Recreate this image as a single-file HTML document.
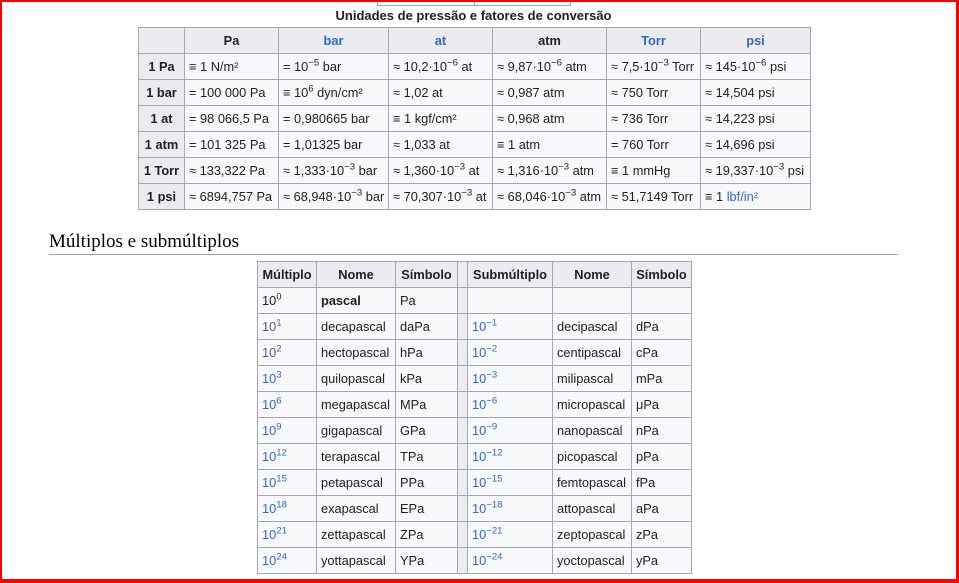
<!DOCTYPE html>
<html><head><meta charset="utf-8">
<style>
html,body{margin:0;padding:0;background:#fff;}
body{width:959px;height:583px;position:relative;overflow:hidden;font-family:"Liberation Sans",Arial,sans-serif;color:#202122;}
.frame{position:absolute;left:0;top:0;width:959px;height:583px;box-sizing:border-box;border-top:2px solid #f00;border-left:2px solid #f00;border-right:3px solid #f00;border-bottom:4px solid #f00;pointer-events:none;}
.topbox{position:absolute;left:377px;top:0;width:192px;height:5px;border:1px solid #a2a9b1;border-top:none;}
.topbox:after{content:"";position:absolute;left:96px;top:0;height:5px;border-left:1px solid #a2a9b1;}
table{position:absolute;border-collapse:collapse;table-layout:fixed;font-size:12.8px;background:#f8f9fa;}
td,th{border:1px solid #a2a9b1;height:25px;padding:0 4px;white-space:nowrap;overflow:hidden;box-sizing:border-box;}
th{background:#eaecf0;font-weight:bold;text-align:center;}
td{text-align:left;}
sup{font-size:75%;line-height:0;vertical-align:super;}
.lk{color:#3366cc;}
.vl{color:#6b4ba1;}
.cap{position:absolute;left:138px;top:8px;width:671px;text-align:center;font-weight:bold;font-size:13px;}
h2{position:absolute;left:49px;top:231px;margin:0;font-family:"Liberation Serif",Georgia,serif;font-weight:normal;font-size:19px;width:849px;border-bottom:1px solid #a2a9b1;height:23px;line-height:22px;color:#000;}
.gap{background:#eaecf0;padding:0;}
</style></head><body>
<div class="topbox"></div>
<div class="cap">Unidades de pressão e fatores de conversão</div>
<table style="left:138px;top:27px;width:672px;">
<colgroup><col style="width:46px"><col style="width:94px"><col style="width:110px"><col style="width:104px"><col style="width:114px"><col style="width:94px"><col style="width:110px"></colgroup>
<tr style="height:26px"><th></th><th>Pa</th><th><span class="lk">bar</span></th><th><span class="lk">at</span></th><th>atm</th><th><span class="lk">Torr</span></th><th><span class="lk">psi</span></th></tr>
<tr style="height:26px"><th>1 Pa</th><td>≡ 1 N/m²</td><td>= 10<sup>−5</sup> bar</td><td>≈ 10,2·10<sup>−6</sup> at</td><td>≈ 9,87·10<sup>−6</sup> atm</td><td>≈ 7,5·10<sup>−3</sup> Torr</td><td>≈ 145·10<sup>−6</sup> psi</td></tr>
<tr style="height:26px"><th>1 bar</th><td>= 100 000 Pa</td><td>≡ 10<sup>6</sup> dyn/cm²</td><td>≈ 1,02 at</td><td>≈ 0,987 atm</td><td>≈ 750 Torr</td><td>≈ 14,504 psi</td></tr>
<tr style="height:26px"><th>1 at</th><td>= 98 066,5 Pa</td><td>= 0,980665 bar</td><td>≡ 1 kgf/cm²</td><td>≈ 0,968 atm</td><td>≈ 736 Torr</td><td>≈ 14,223 psi</td></tr>
<tr style="height:26px"><th>1 atm</th><td>= 101 325 Pa</td><td>= 1,01325 bar</td><td>≈ 1,033 at</td><td>≡ 1 atm</td><td>= 760 Torr</td><td>≈ 14,696 psi</td></tr>
<tr style="height:26px"><th>1 Torr</th><td>≈ 133,322 Pa</td><td>≈ 1,333·10<sup>−3</sup> bar</td><td>≈ 1,360·10<sup>−3</sup> at</td><td>≈ 1,316·10<sup>−3</sup> atm</td><td>≡ 1 mmHg</td><td>≈ 19,337·10<sup>−3</sup> psi</td></tr>
<tr style="height:26px"><th>1 psi</th><td>≈ 6894,757 Pa</td><td>≈ 68,948·10<sup>−3</sup> bar</td><td>≈ 70,307·10<sup>−3</sup> at</td><td>≈ 68,046·10<sup>−3</sup> atm</td><td>≈ 51,7149 Torr</td><td>≡ 1 <span class="lk">lbf/in²</span></td></tr>
</table>
<h2>Múltiplos e submúltiplos</h2>
<table style="left:257px;top:261px;width:434px;">
<colgroup><col style="width:59px"><col style="width:79px"><col style="width:62px"><col style="width:10px"><col style="width:85px"><col style="width:79px"><col style="width:60px"></colgroup>
<tr style="height:26px"><th>Múltiplo</th><th>Nome</th><th>Símbolo</th><th class="gap"></th><th>Submúltiplo</th><th>Nome</th><th>Símbolo</th></tr>
<tr style="height:26px"><td>10<sup>0</sup></td><td><b>pascal</b></td><td>Pa</td><td class="gap"></td><td></td><td></td><td></td></tr>
<tr style="height:26px"><td class="vl">10<sup>1</sup></td><td>decapascal</td><td>daPa</td><td class="gap"></td><td class="lk">10<sup>−1</sup></td><td>decipascal</td><td>dPa</td></tr>
<tr style="height:26px"><td class="vl">10<sup>2</sup></td><td>hectopascal</td><td>hPa</td><td class="gap"></td><td class="lk">10<sup>−2</sup></td><td>centipascal</td><td>cPa</td></tr>
<tr style="height:26px"><td class="lk">10<sup>3</sup></td><td>quilopascal</td><td>kPa</td><td class="gap"></td><td class="lk">10<sup>−3</sup></td><td>milipascal</td><td>mPa</td></tr>
<tr style="height:26px"><td class="lk">10<sup>6</sup></td><td>megapascal</td><td>MPa</td><td class="gap"></td><td class="lk">10<sup>−6</sup></td><td>micropascal</td><td>μPa</td></tr>
<tr style="height:26px"><td class="lk">10<sup>9</sup></td><td>gigapascal</td><td>GPa</td><td class="gap"></td><td class="lk">10<sup>−9</sup></td><td>nanopascal</td><td>nPa</td></tr>
<tr style="height:26px"><td class="lk">10<sup>12</sup></td><td>terapascal</td><td>TPa</td><td class="gap"></td><td class="lk">10<sup>−12</sup></td><td>picopascal</td><td>pPa</td></tr>
<tr style="height:26px"><td class="lk">10<sup>15</sup></td><td>petapascal</td><td>PPa</td><td class="gap"></td><td class="lk">10<sup>−15</sup></td><td>femtopascal</td><td>fPa</td></tr>
<tr style="height:26px"><td class="lk">10<sup>18</sup></td><td>exapascal</td><td>EPa</td><td class="gap"></td><td class="lk">10<sup>−18</sup></td><td>attopascal</td><td>aPa</td></tr>
<tr style="height:26px"><td class="lk">10<sup>21</sup></td><td>zettapascal</td><td>ZPa</td><td class="gap"></td><td class="lk">10<sup>−21</sup></td><td>zeptopascal</td><td>zPa</td></tr>
<tr style="height:26px"><td class="lk">10<sup>24</sup></td><td>yottapascal</td><td>YPa</td><td class="gap"></td><td class="lk">10<sup>−24</sup></td><td>yoctopascal</td><td>yPa</td></tr>
</table>
<div class="frame"></div>
</body></html>
